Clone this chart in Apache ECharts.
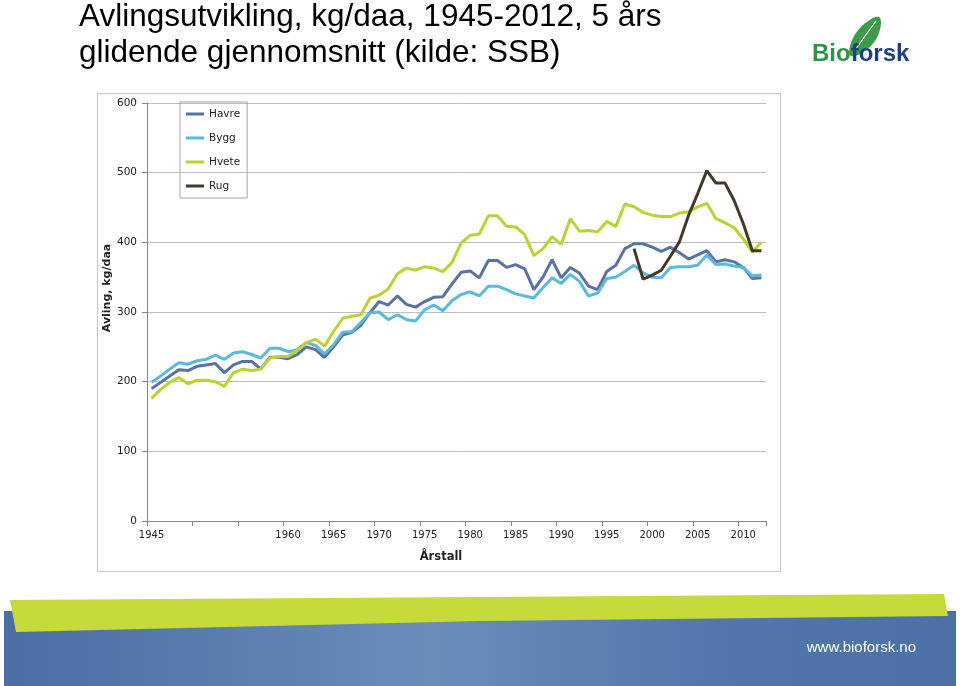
<!DOCTYPE html>
<html>
<head>
<meta charset="utf-8">
<script src="https://cdn.jsdelivr.net/npm/echarts@6/dist/echarts.min.js"></script>
<style>
html,body{margin:0;padding:0;background:#fff;}
#chart{width:960px;height:686px;}
</style>
</head>
<body>
<div id="chart"></div>
<script>
// ---- data ----
var years = [];
for (var y = 1945; y <= 2012; y++) years.push(String(y));

var havre = [190,199,208,217,216,222,224,226,213,224,229,229,218,235,235,233,239,250,246,235,
             250,267,271,281,299,315,310,323,311,307,315,321,322,340,357,359,349,374,374,364,
             368,362,332,350,375,349,364,356,337,332,358,367,391,398,398,393,387,393,385,376,
             382,388,372,375,372,364,348,349];
var bygg  = [199,208,218,227,225,230,232,238,232,241,243,239,234,248,248,243,246,256,252,240,
             253,271,272,285,299,300,289,296,289,287,303,310,302,316,325,329,323,337,337,332,
             326,323,320,335,349,341,354,344,323,327,348,350,358,367,356,350,349,364,365,365,
             367,382,368,369,366,364,352,353];
var hvete = [176,189,199,206,197,202,202,200,193,213,218,216,218,234,236,236,245,256,261,251,
             272,291,294,296,320,324,333,355,363,360,365,363,358,371,399,410,412,438,438,423,
             422,411,381,391,408,397,434,416,417,415,430,423,455,451,443,439,437,437,442,444,
             451,456,434,428,421,405,386,400];
var rug   = [null,null,null,null,null,null,null,null,null,null,null,null,null,null,null,null,null,null,null,null,
             null,null,null,null,null,null,null,null,null,null,null,null,null,null,null,null,null,null,null,null,
             null,null,null,null,null,null,null,null,null,null,null,null,null,391,347,353,360,380,401,439,
             470,503,485,485,460,427,388,388];
var seriesNames = ['Havre','Bygg','Hvete','Rug'];
var yTicks = {min:0, max:600, step:100};
var titleLines = ['Avlingsutvikling, kg/daa, 1945-2012, 5 års', 'glidende gjennomsnitt (kilde: SSB)'];

var colors = ['#5a72a2','#5cb9de','#bcd233','#43392a'];

var chart = echarts.init(document.getElementById('chart'), null, {renderer:'canvas'});
var labelFont = 'DejaVu Sans';

function mkSeries(name, data, color) {
  return {
    name: name, type: 'line', data: data, symbol: 'none', smooth: false,
    connectNulls: false,
    lineStyle: {width: 3, color: color}, itemStyle: {color: color},
    emphasis: {disabled: true}
  };
}

chart.setOption({
  animation: false,
  backgroundColor: '#fff',
  title: {
    text: titleLines.join('\n'),
    left: 79, top: -1, padding: 0,
    textStyle: {fontFamily: 'Liberation Sans', fontSize: 31.5, fontWeight: 'normal', color: '#000', lineHeight: 36}
  },
  grid: {left: 147, top: 103, width: 619, height: 418, containLabel: false},
  legend: {
    orient: 'vertical', left: 180, top: 102,
    data: seriesNames,
    icon: 'rect', itemWidth: 18, itemHeight: 3, itemGap: 10,
    borderColor: '#a6a6a6', borderWidth: 1, padding: [5, 7, 5, 6],
    textStyle: {fontFamily: labelFont, fontSize: 10.5, color: '#222', lineHeight: 14},
    selectedMode: false
  },
  xAxis: {
    type: 'category', data: years, boundaryGap: true,
    axisLine: {lineStyle: {color: '#868686', width: 1}},
    axisTick: {show: true, length: 5, lineStyle: {color: '#868686'},
      interval: function (i) { return i % 5 === 0; }},
    axisLabel: {
      fontFamily: labelFont, fontSize: 10, color: '#222', margin: 9,
      interval: function (i, v) { var n = +v; return n === 1945 || (n >= 1960 && n % 5 === 0); }
    },
    splitLine: {show: false}
  },
  yAxis: {
    type: 'value', min: yTicks.min, max: yTicks.max, interval: yTicks.step,
    axisLine: {show: true, lineStyle: {color: '#868686', width: 1}},
    axisTick: {show: true, length: 5, lineStyle: {color: '#868686'}},
    axisLabel: {fontFamily: labelFont, fontSize: 10.5, color: '#222', margin: 10},
    splitLine: {show: true, lineStyle: {color: '#bebebe', width: 1}}
  },
  series: [
    mkSeries(seriesNames[0], havre, colors[0]),
    mkSeries(seriesNames[1], bygg, colors[1]),
    mkSeries(seriesNames[2], hvete, colors[2]),
    mkSeries(seriesNames[3], rug, colors[3])
  ],
  graphic: [
    // chart frame
    {type: 'rect', z: -10, shape: {x: 97.5, y: 93.5, width: 683, height: 478},
     style: {fill: 'none', stroke: '#c8c8c8', lineWidth: 1}},
    // axis titles
    {type: 'text', x: 107, y: 288, rotation: Math.PI / 2,
     style: {text: 'Avling, kg/daa', font: 'bold 11px DejaVu Sans', fill: '#222', align: 'center', verticalAlign: 'middle'}},
    {type: 'text', x: 441, y: 557,
     style: {text: 'Årstall', font: 'bold 11.5px DejaVu Sans', fill: '#222', align: 'center', verticalAlign: 'middle'}},
    // logo leaf
    {type: 'polygon', shape: {points: [[851, 56], [856, 33], [879, 17], [875, 41]], smooth: 0.45},
     style: {fill: '#3d9a48'}},
    {type: 'bezierCurve', shape: {x1: 853, y1: 53, x2: 876, y2: 21, cpx1: 862, cpy1: 40},
     style: {fill: 'none', stroke: '#ffffff', lineWidth: 1.2}},
    {type: 'text', x: 812, y: 54,
     style: {text: '{g|Bio}{b|forsk}', verticalAlign: 'middle', align: 'left',
       rich: {g: {fontFamily: 'Liberation Sans', fontWeight: 'bold', fontSize: 24, fill: '#2e9445'},
              b: {fontFamily: 'Liberation Sans', fontWeight: 'bold', fontSize: 24, fill: '#1f3f7d'}}}},
    // footer band
    {type: 'rect', z: -5, shape: {x: 4, y: 611, width: 952, height: 75},
     style: {fill: new echarts.graphic.LinearGradient(0, 0, 1, 0, [
       {offset: 0, color: '#4a6fa3'}, {offset: 0.45, color: '#6a8cb9'}, {offset: 0.75, color: '#5277aa'}, {offset: 1, color: '#4b71a5'}])}},
    {type: 'polygon', z: -4, shape: {points: [[10, 600], [944, 594], [948, 616], [480, 621], [16, 632]]},
     style: {fill: '#c6da3c'}},
    {type: 'text', x: 916, y: 648,
     style: {text: 'www.bioforsk.no', font: '15px Liberation Sans', fill: '#ffffff', align: 'right', verticalAlign: 'middle'}}
  ]
});
</script>
</body>
</html>
